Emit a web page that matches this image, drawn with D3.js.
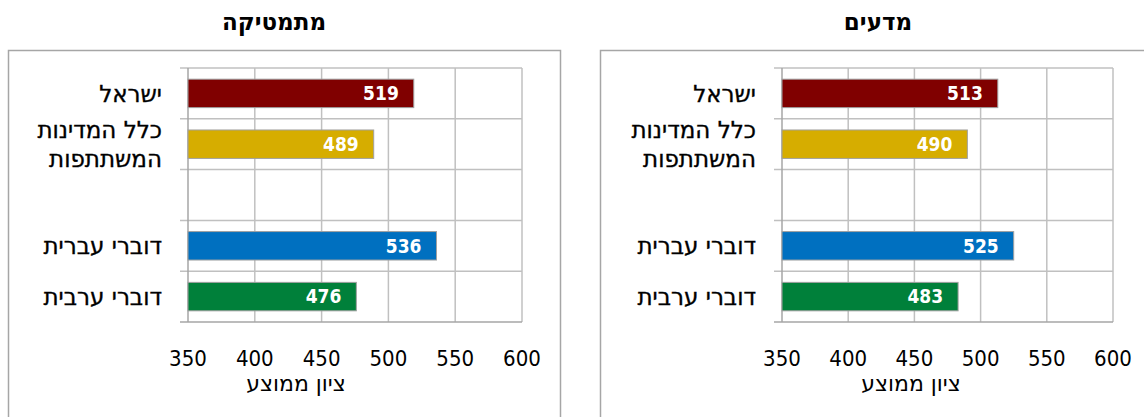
<!DOCTYPE html>
<html>
<head>
<meta charset="utf-8">
<script src="https://cdn.jsdelivr.net/npm/d3@7"></script>
<style>
  html, body { margin: 0; padding: 0; background: #fff; }
  svg { display: block; }
</style>
</head>
<body>
<svg id="chart" width="1144" height="417"></svg>
<script>
// נתונים
const categories = ["ישראל", "כלל המדינות\nהמשתתפות", "", "דוברי עברית", "דוברי ערבית"];
const barColors = ["#800000", "#d6ad00", null, "#0070c0", "#00803a"];
const mathValues = [519, 489, null, 536, 476];
const scienceValues = [513, 490, null, 525, 483];
const xTicks = [350, 400, 450, 500, 550, 600];
const axisTitle = "ציון ממוצע";

const svg = d3.select('#chart');
const fontNum = '"DejaVu Sans Condensed", "DejaVu Sans", sans-serif';
const fontHeb = '"DejaVu Sans", sans-serif';

const plotTop = 68, plotBottom = 322;

// y - בנד לכל קטגוריה (כולל שורה ריקה)
const y = d3.scaleBand()
  .domain(d3.range(categories.length))
  .range([plotTop, plotBottom])
  .paddingInner(0.44)
  .paddingOuter(0.22);

// גבולות השורות לקווי רשת אופקיים
const rowEdge = d3.scaleLinear().domain([0, categories.length]).range([plotTop, plotBottom]);

function drawPanel(cfg) {
  const g = svg.append('g');

  // מסגרת הפאנל
  g.append('rect')
    .attr('x', cfg.boxLeft + 0.5).attr('y', 50.5)
    .attr('width', cfg.boxWidth).attr('height', 420)
    .attr('fill', 'none')
    .attr('stroke', '#a6a6a6')
    .attr('stroke-width', 1.5);

  // כותרת
  g.append('text')
    .attr('x', cfg.titleX).attr('y', 30)
    .attr('text-anchor', 'middle')
    .style('font-family', fontHeb)
    .style('font-weight', 'bold')
    .style('font-size', '23px')
    .attr('fill', '#000')
    .text(cfg.title);

  const x = d3.scaleLinear().domain([350, 600]).range(cfg.plotX);

  // קווי רשת אנכיים
  g.append('g').selectAll('line').data(xTicks.slice(1)).join('line')
    .attr('x1', d => x(d)).attr('x2', d => x(d))
    .attr('y1', plotTop).attr('y2', plotBottom)
    .attr('stroke', '#c0c0c0')
    .attr('stroke-width', 1.5);

  // קווי רשת אופקיים + סימוני ציר
  g.append('g').selectAll('line').data(d3.range(categories.length + 1)).join('line')
    .attr('x1', x(350) - 8).attr('x2', x(600))
    .attr('y1', d => rowEdge(d)).attr('y2', d => rowEdge(d))
    .attr('stroke', d => d === categories.length ? '#a6a6a6' : '#c0c0c0')
    .attr('stroke-width', 1.5);

  // ציר אנכי
  g.append('line')
    .attr('x1', x(350)).attr('x2', x(350))
    .attr('y1', plotTop).attr('y2', plotBottom)
    .attr('stroke', '#a6a6a6')
    .attr('stroke-width', 1.5);

  const rows = categories.map((c, i) => ({ cat: c, i: i, v: cfg.values[i], color: barColors[i] }))
    .filter(d => d.v != null);

  // עמודות
  g.append('g').selectAll('rect').data(rows).join('rect')
    .attr('x', x(350))
    .attr('y', d => y(d.i))
    .attr('width', d => x(d.v) - x(350))
    .attr('height', y.bandwidth())
    .attr('fill', d => d.color)
    .attr('stroke', '#a0a0a0')
    .attr('stroke-width', 1);

  // תוויות ערכים
  g.append('g').selectAll('text').data(rows).join('text')
    .attr('x', d => x(d.v) - 15)
    .attr('y', d => y(d.i) + y.bandwidth() / 2)
    .attr('dy', '0.36em')
    .attr('text-anchor', 'end')
    .style('font-family', fontNum)
    .style('font-weight', 'bold')
    .style('font-size', '19px')
    .attr('fill', '#fff')
    .text(d => d.v);

  // תוויות קטגוריה
  const labels = g.append('g').selectAll('text').data(rows).join('text')
    .attr('text-anchor', 'end')
    .style('font-family', fontHeb)
    .style('font-size', '23px')
    .attr('fill', '#000')
    .attr('stroke', '#000')
    .attr('stroke-width', 0.35);
  labels.each(function (d) {
    const lines = d.cat.split('\n');
    const cy = y(d.i) + y.bandwidth() / 2;
    const lh = 29;
    d3.select(this).selectAll('tspan').data(lines).join('tspan')
      .attr('x', x(350) - 26)
      .attr('y', (l, k) => cy + (k - (lines.length - 1) / 2) * lh)
      .attr('dy', '0.36em')
      .text(l => l);
  });

  // תוויות ציר x
  g.append('g').selectAll('text').data(xTicks).join('text')
    .attr('x', d => x(d))
    .attr('y', 366)
    .attr('text-anchor', 'middle')
    .style('font-family', fontNum)
    .style('font-size', '22px')
    .attr('fill', '#000')
    .text(d => d);

  // כותרת ציר
  g.append('text')
    .attr('x', cfg.axisTitleX).attr('y', 391)
    .attr('text-anchor', 'middle')
    .style('font-family', fontHeb)
    .style('font-size', '22px')
    .attr('fill', '#000')
    .text(axisTitle);
}

drawPanel({
  title: "מתמטיקה", titleX: 274, axisTitleX: 296,
  boxLeft: 8, boxWidth: 552,
  plotX: [188, 522],
  values: mathValues
});

drawPanel({
  title: "מדעים", titleX: 878, axisTitleX: 911,
  boxLeft: 600, boxWidth: 700,
  plotX: [782, 1113],
  values: scienceValues
});
</script>
</body>
</html>
